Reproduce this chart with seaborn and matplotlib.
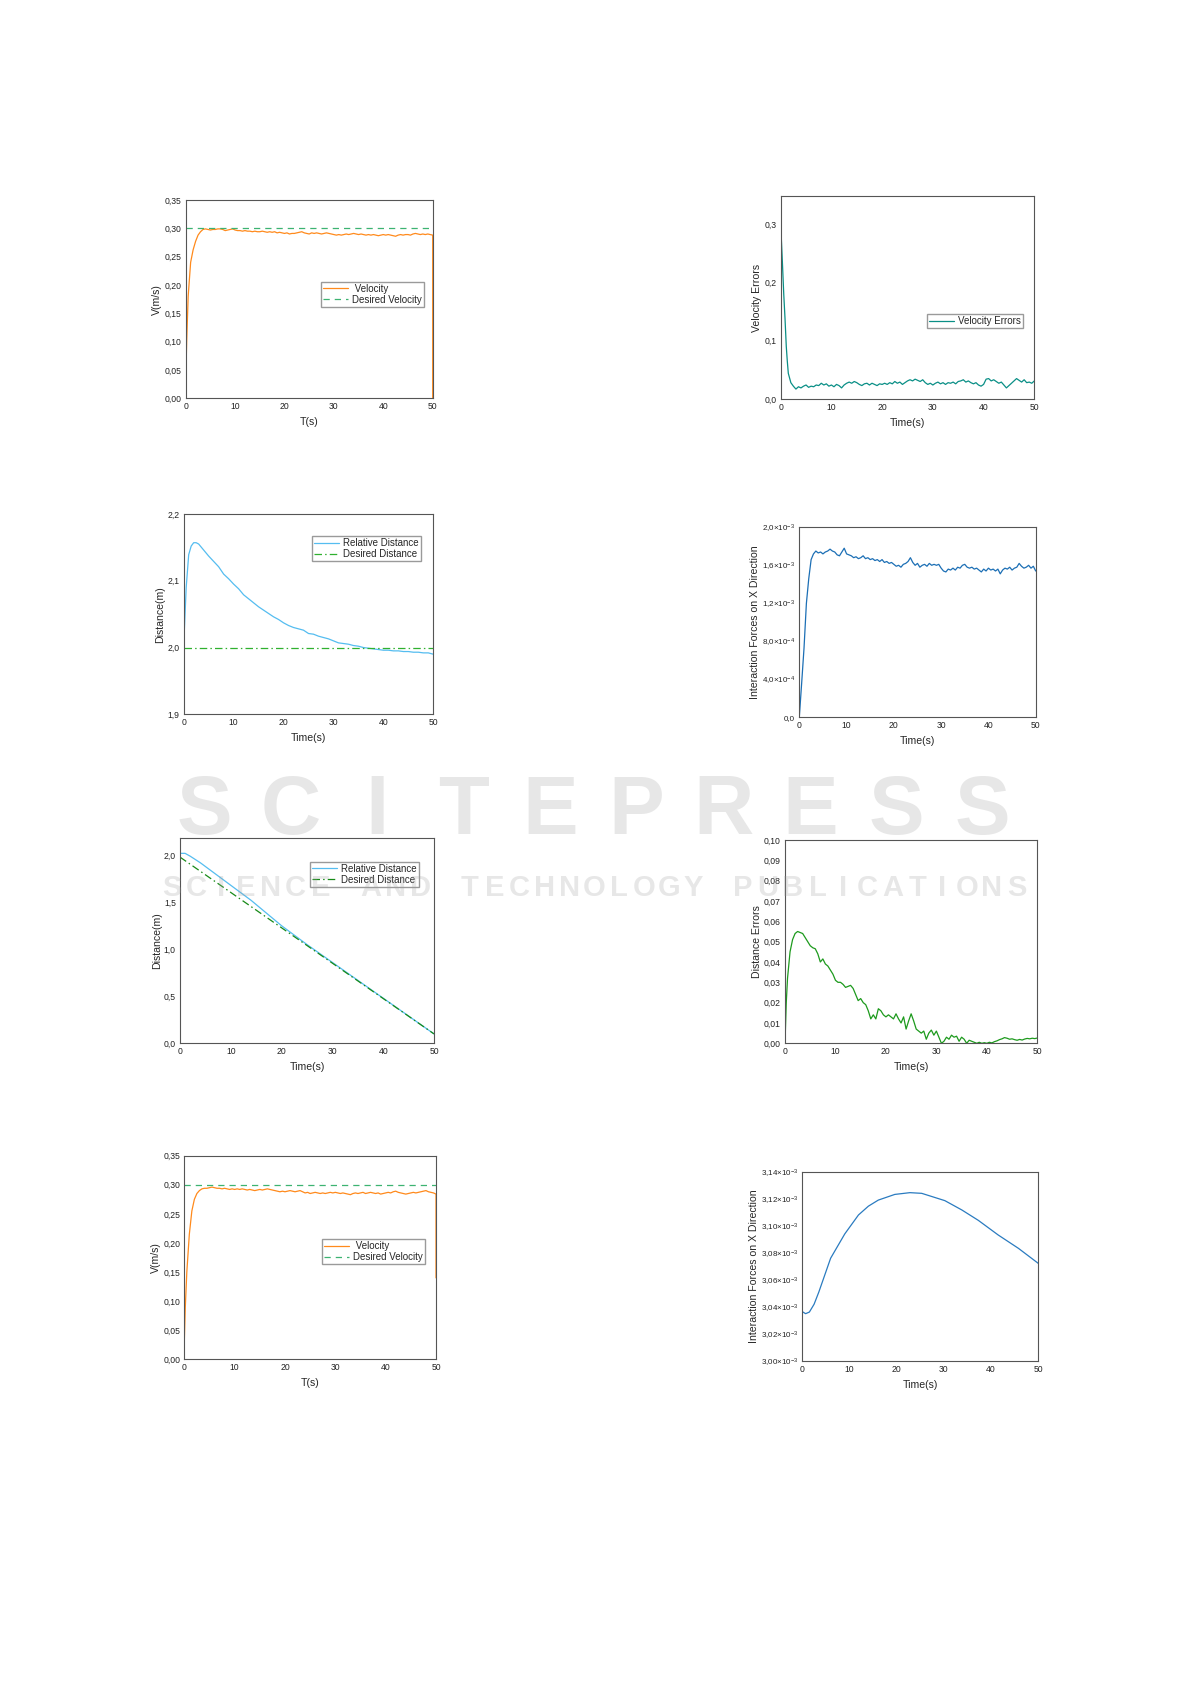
import numpy as np
import pandas as pd
import seaborn as sns
import matplotlib.pyplot as plt
from matplotlib.ticker import FuncFormatter, MultipleLocator

sns.set_theme(style="white")
plt.rcParams['font.family'] = ['Liberation Sans', 'DejaVu Sans']
plt.rcParams['mathtext.fontset'] = 'custom'
plt.rcParams['mathtext.rm'] = 'Liberation Sans'
plt.rcParams['mathtext.it'] = 'Liberation Sans:italic'
plt.rcParams['mathtext.bf'] = 'Liberation Sans:bold'

# ---- data ----
t_fine = np.arange(3.0, 50.01, 0.5)   # 95 sample times, 0.5 s apart

# panel 1: velocity (first run)
t_vel1_start = [0, 0.2, 0.5, 1, 1.5, 2, 2.5]
vel1_start = [0.03, 0.10, 0.18, 0.24, 0.262, 0.277, 0.288]
vel1_fine = [0.294, 0.298, 0.299, 0.298, 0.297, 0.298, 0.298, 0.299, 0.299, 0.298,
             0.296, 0.297, 0.298, 0.299, 0.297, 0.296, 0.296, 0.295, 0.296, 0.295,
             0.295, 0.294, 0.295, 0.294, 0.294, 0.295, 0.294, 0.293, 0.294, 0.293,
             0.294, 0.292, 0.293, 0.292, 0.291, 0.292, 0.290, 0.291, 0.291, 0.292,
             0.293, 0.294, 0.292, 0.291, 0.290, 0.292, 0.291, 0.292, 0.291, 0.290,
             0.291, 0.292, 0.291, 0.290, 0.289, 0.288, 0.289, 0.288, 0.289, 0.290,
             0.289, 0.290, 0.291, 0.290, 0.289, 0.290, 0.289, 0.288, 0.289, 0.288,
             0.289, 0.288, 0.287, 0.288, 0.289, 0.288, 0.289, 0.288, 0.287, 0.286,
             0.288, 0.289, 0.288, 0.289, 0.289, 0.288, 0.290, 0.291, 0.290, 0.289,
             0.290, 0.289, 0.290, 0.289, 0.288]
vel1_end = 0.0

# panel 7: velocity (second run)
t_vel2_start = [0, 0.2, 0.5, 1, 1.5, 2, 2.5]
vel2_start = [0.03, 0.09, 0.15, 0.215, 0.255, 0.275, 0.285]
vel2_fine = [0.290, 0.293, 0.294, 0.294, 0.295, 0.296, 0.295, 0.294, 0.294, 0.293,
             0.294, 0.293, 0.292, 0.293, 0.292, 0.293, 0.292, 0.293, 0.292, 0.291,
             0.292, 0.291, 0.290, 0.291, 0.292, 0.291, 0.292, 0.293, 0.292, 0.291,
             0.290, 0.289, 0.288, 0.289, 0.288, 0.289, 0.290, 0.289, 0.288, 0.289,
             0.290, 0.288, 0.286, 0.287, 0.285, 0.286, 0.287, 0.286, 0.285, 0.286,
             0.285, 0.286, 0.287, 0.286, 0.287, 0.286, 0.285, 0.286, 0.285, 0.284,
             0.283, 0.285, 0.286, 0.285, 0.286, 0.287, 0.285, 0.286, 0.287, 0.286,
             0.285, 0.286, 0.284, 0.285, 0.286, 0.287, 0.286, 0.288, 0.289, 0.287,
             0.286, 0.285, 0.284, 0.285, 0.286, 0.287, 0.286, 0.287, 0.288, 0.289,
             0.290, 0.288, 0.287, 0.286, 0.284]
vel2_end = 0.14
desired_velocity = 0.30

# panel 2: velocity errors
t_verr_start = [0, 0.33, 0.6, 0.85, 1.1, 1.3, 1.5, 2.0, 2.5]
verr_start = [0.30, 0.235, 0.18, 0.138, 0.09, 0.065, 0.044, 0.028, 0.022]
verr_fine = [0.017, 0.021, 0.019, 0.022, 0.024, 0.020, 0.022, 0.021, 0.024, 0.023,
             0.027, 0.024, 0.026, 0.022, 0.024, 0.021, 0.025, 0.023, 0.019, 0.024,
             0.027, 0.029, 0.027, 0.030, 0.028, 0.025, 0.023, 0.026, 0.027, 0.024,
             0.027, 0.025, 0.023, 0.026, 0.025, 0.027, 0.025, 0.028, 0.026, 0.030,
             0.027, 0.029, 0.025, 0.028, 0.031, 0.033, 0.031, 0.034, 0.032, 0.030,
             0.033, 0.028, 0.025, 0.027, 0.024, 0.027, 0.029, 0.026, 0.028, 0.025,
             0.028, 0.027, 0.029, 0.026, 0.030, 0.031, 0.033, 0.029, 0.031, 0.028,
             0.026, 0.028, 0.024, 0.022, 0.025, 0.034, 0.035, 0.031, 0.033, 0.030,
             0.027, 0.029, 0.024, 0.019, 0.023, 0.027, 0.031, 0.035, 0.032, 0.029,
             0.033, 0.028, 0.029, 0.027, 0.031]

# panel 3: relative distance (holding distance)
t_dist = [0, 0.5, 1, 1.5, 2, 2.5] + list(range(3, 51))
rel_dist = [2.003, 2.09, 2.139, 2.152, 2.157, 2.157,
            2.155, 2.146, 2.137, 2.129, 2.121, 2.110, 2.103, 2.095, 2.088, 2.079,
            2.073, 2.067, 2.061, 2.056, 2.051, 2.046, 2.042, 2.037, 2.033, 2.030,
            2.028, 2.026, 2.021, 2.020, 2.017, 2.015, 2.013, 2.010, 2.007, 2.006,
            2.005, 2.003, 2.002, 2.000, 1.999, 1.998, 1.997, 1.996, 1.996, 1.995,
            1.995, 1.994, 1.994, 1.993, 1.993, 1.992, 1.992, 1.990]
desired_dist = 2.0

# panel 4: interaction forces (x10^-3)
t_force_start = [0, 0.5, 1, 1.5, 2, 2.5]
force_start = [0.0, 0.36, 0.73, 1.2, 1.46, 1.66]
force_fine = [1.72, 1.75, 1.73, 1.74, 1.72, 1.74, 1.75, 1.77, 1.75, 1.74,
              1.71, 1.70, 1.74, 1.78, 1.72, 1.71, 1.70, 1.68, 1.69, 1.67,
              1.68, 1.70, 1.67, 1.68, 1.66, 1.67, 1.65, 1.66, 1.64, 1.66,
              1.63, 1.64, 1.62, 1.63, 1.61, 1.59, 1.60, 1.58, 1.61, 1.62,
              1.64, 1.68, 1.63, 1.60, 1.62, 1.58, 1.60, 1.61, 1.59, 1.62,
              1.60, 1.61, 1.60, 1.61, 1.57, 1.54, 1.53, 1.56, 1.55, 1.57,
              1.55, 1.58, 1.57, 1.60, 1.61, 1.58, 1.57, 1.58, 1.56, 1.57,
              1.55, 1.53, 1.56, 1.54, 1.57, 1.55, 1.56, 1.54, 1.56, 1.51,
              1.55, 1.57, 1.56, 1.58, 1.55, 1.57, 1.58, 1.62, 1.59, 1.57,
              1.58, 1.60, 1.57, 1.59, 1.54]

# panel 5: relative distance (approaching)
t_app = [0, 1, 2, 4, 6, 8, 10, 12, 14, 16, 18, 20, 25, 30, 35, 40, 45, 50]
rel_app = [2.02, 2.02, 1.99, 1.92, 1.84, 1.76, 1.68, 1.60, 1.52, 1.43, 1.34, 1.25,
           1.05, 0.86, 0.67, 0.48, 0.29, 0.10]
t_app_des = [0, 50]
des_app = [1.98, 0.10]

# panel 6: distance errors
t_derr_start = [0, 0.25, 0.5, 1, 1.5, 2, 2.5]
derr_start = [0.0, 0.02, 0.032, 0.045, 0.051, 0.054, 0.055]
derr_fine = [0.0545, 0.054, 0.052, 0.050, 0.048, 0.047, 0.0465, 0.044, 0.040, 0.0415,
             0.039, 0.038, 0.036, 0.034, 0.031, 0.030, 0.030, 0.029, 0.0275, 0.028,
             0.0285, 0.027, 0.024, 0.021, 0.022, 0.020, 0.019, 0.016, 0.012, 0.014,
             0.012, 0.017, 0.016, 0.014, 0.013, 0.014, 0.013, 0.012, 0.0145, 0.012,
             0.010, 0.013, 0.007, 0.011, 0.0145, 0.011, 0.007, 0.006, 0.005, 0.006,
             0.002, 0.005, 0.0065, 0.004, 0.006, 0.003, 0.000, 0.001, 0.003, 0.002,
             0.004, 0.003, 0.0035, 0.001, 0.003, 0.002, 0.000, 0.0015, 0.001, 0.0005,
             0.000, 0.0005, 0.000, 0.0003, 0.000, 0.0005, 0.0002, 0.0008, 0.0012, 0.0018,
             0.0022, 0.0028, 0.0025, 0.002, 0.0022, 0.0018, 0.0015, 0.0019, 0.0016, 0.0021,
             0.0024, 0.0022, 0.0025, 0.0023, 0.0026]

# panel 8: interaction forces, second run (x10^-3)
t_force2 = [0, 0.7, 1.5, 2.5, 3.5, 4.8, 6, 8, 9, 11.9, 14, 16.1, 19.6, 22.8, 25.3,
            30.2, 33.8, 37.3, 41.5, 45.8, 50]
force2 = [3.0365, 3.0350, 3.0362, 3.0420, 3.0510, 3.0640, 3.0760, 3.0880, 3.0940,
          3.1080, 3.1145, 3.1190, 3.1232, 3.1245, 3.1240, 3.1186, 3.1117, 3.1040,
          3.0932, 3.0833, 3.0722]

# ---- layout ----
W, H = 1191, 1684
fig = plt.figure(figsize=(W / 100, H / 100), dpi=100)
fig.patch.set_facecolor('white')


def make_ax(left, right, top, bottom):
    return fig.add_axes([left / W, 1 - bottom / H, (right - left) / W, (bottom - top) / H])


def comma_fmt(nd):
    return FuncFormatter(lambda v, p: f"{v:.{nd}f}".replace('.', ','))


def sci_fmt(nd):
    def f(v, p):
        v = v * 1e-3
        if abs(v) < 1e-12:
            return "0,0"
        e = int(np.floor(np.log10(abs(v)) + 1e-9))
        m = v / 10 ** e
        return f"{m:.{nd}f}".replace('.', ',') + r"$\times$10$^{%d}$" % e
    return FuncFormatter(f)


def style(ax, xlabel, ylabel, ylim, ystep, yfmt):
    ax.set_xlim(0, 50)
    ax.set_ylim(*ylim)
    ax.xaxis.set_major_locator(MultipleLocator(10))
    ax.yaxis.set_major_locator(MultipleLocator(ystep))
    ax.xaxis.set_major_formatter(FuncFormatter(lambda v, p: f"{v:.0f}"))
    ax.yaxis.set_major_formatter(yfmt)
    ax.tick_params(length=0, labelsize=6.2, pad=3, colors='#222222')
    ax.set_xlabel(xlabel, fontsize=7.6, labelpad=4)
    ax.set_ylabel(ylabel, fontsize=7.6, labelpad=1.5)
    for s in ax.spines.values():
        s.set_color('#555555')
        s.set_linewidth(0.8)
    ax.grid(False)


def add_legend(ax, x, y):
    ax.legend(loc='upper left', bbox_to_anchor=(x, y), fontsize=7, frameon=True,
              fancybox=False, edgecolor='#9a9a9a', framealpha=1, borderpad=0.2,
              labelspacing=0.1, handlelength=2.6, handletextpad=0.4, borderaxespad=0)


orange = '#ff8a1c'
lw = 0.9

# panel 1
ax1 = make_ax(185.7, 432.7, 200, 398.3)
df1 = pd.DataFrame({'t': t_vel1_start + list(t_fine) + [50.0],
                    'v': vel1_start + vel1_fine + [vel1_end]})
sns.lineplot(data=df1, x='t', y='v', ax=ax1, color=orange, lw=lw, sort=False,
             estimator=None, label=' Velocity')
sns.lineplot(x=[0, 50], y=[desired_velocity, desired_velocity], ax=ax1, color='#3cb371',
             lw=lw, linestyle=(0, (5, 4)), label='Desired Velocity')
style(ax1, 'T(s)', 'V(m/s)', (0, 0.35), 0.05, comma_fmt(2))
add_legend(ax1, 0.548, 0.588)

# panel 2
ax2 = make_ax(780.7, 1034.3, 196, 399)
df2 = pd.DataFrame({'t': t_verr_start + list(t_fine), 'e': verr_start + verr_fine})
sns.lineplot(data=df2, x='t', y='e', ax=ax2, color='#0a8f86', lw=lw, sort=False,
             estimator=None, label='Velocity Errors')
style(ax2, 'Time(s)', 'Velocity Errors', (0, 0.348), 0.1, comma_fmt(1))
add_legend(ax2, 0.576, 0.417)

# panel 3
ax3 = make_ax(183.7, 433.3, 514, 714.3)
df3 = pd.DataFrame({'t': t_dist, 'd': rel_dist})
sns.lineplot(data=df3, x='t', y='d', ax=ax3, color='#55bdf0', lw=lw, sort=False,
             estimator=None, label='Relative Distance')
sns.lineplot(x=[0, 50], y=[desired_dist, desired_dist], ax=ax3, color='#2fb02f', lw=lw,
             linestyle=(0, (6, 2.5, 1.2, 2.5)), label='Desired Distance')
style(ax3, 'Time(s)', 'Distance(m)', (1.9, 2.2), 0.1, comma_fmt(1))
add_legend(ax3, 0.515, 0.89)

# panel 4
ax4 = make_ax(799.3, 1035.7, 527.3, 717.3)
df4 = pd.DataFrame({'t': t_force_start + list(t_fine), 'f': force_start + force_fine})
sns.lineplot(data=df4, x='t', y='f', ax=ax4, color='#1c6fb5', lw=lw, sort=False,
             estimator=None, legend=False)
style(ax4, 'Time(s)', 'Interaction Forces on X Direction', (0, 2.0), 0.4, sci_fmt(1))
ax4.tick_params(axis='y', labelsize=5.8)

# panel 5
ax5 = make_ax(180, 434, 838.3, 1043.3)
sns.lineplot(x=t_app, y=rel_app, ax=ax5, color='#55bdf0', lw=lw, sort=False,
             estimator=None, label='Relative Distance')
sns.lineplot(x=t_app_des, y=des_app, ax=ax5, color='#178a17', lw=lw,
             linestyle=(0, (6, 2.5, 1.2, 2.5)), label='Desired Distance')
style(ax5, 'Time(s)', 'Distance(m)', (0, 2.18), 0.5, comma_fmt(1))
add_legend(ax5, 0.512, 0.886)

# panel 6
ax6 = make_ax(785, 1037.3, 840, 1043.3)
df6 = pd.DataFrame({'t': t_derr_start + list(t_fine), 'e': derr_start + derr_fine})
sns.lineplot(data=df6, x='t', y='e', ax=ax6, color='#1d9a1d', lw=lw, sort=False,
             estimator=None, legend=False)
style(ax6, 'Time(s)', 'Distance Errors', (0, 0.10), 0.01, comma_fmt(2))

# panel 7
ax7 = make_ax(184.3, 436, 1155.7, 1359.3)
df7 = pd.DataFrame({'t': t_vel2_start + list(t_fine) + [50.0],
                    'v': vel2_start + vel2_fine + [vel2_end]})
sns.lineplot(data=df7, x='t', y='v', ax=ax7, color=orange, lw=lw, sort=False,
             estimator=None, label=' Velocity')
sns.lineplot(x=[0, 50], y=[desired_velocity, desired_velocity], ax=ax7, color='#3cb371',
             lw=lw, linestyle=(0, (5, 4)), label='Desired Velocity')
style(ax7, 'T(s)', 'V(m/s)', (0, 0.35), 0.05, comma_fmt(2))
add_legend(ax7, 0.546, 0.589)

# panel 8
ax8 = make_ax(802.3, 1038.3, 1171.7, 1361)
sns.lineplot(x=t_force2, y=force2, ax=ax8, color='#2a7bc0', lw=lw, sort=False,
             estimator=None, legend=False)
style(ax8, 'Time(s)', 'Interaction Forces on X Direction', (3.0, 3.14), 0.02, sci_fmt(2))
ax8.tick_params(axis='y', labelsize=5.8)

# watermark
wm = "SCITEPRESS"
slot = (1026 - 161) / len(wm)
for i, ch in enumerate(wm):
    fig.text((161 + slot * (i + 0.5)) / W, 1 - 812 / H, ch, fontsize=60, weight='bold',
             ha='center', va='center', color='#a0a0a0', alpha=0.25, zorder=10)
wm2 = "SCIENCE AND TECHNOLOGY PUBLICATIONS"
slot2 = (1029 - 159) / len(wm2)
for i, ch in enumerate(wm2):
    fig.text((159 + slot2 * (i + 0.5)) / W, 1 - 888 / H, ch, fontsize=21, weight='bold',
             ha='center', va='center', color='#a0a0a0', alpha=0.25, zorder=10)

fig.savefig('out.png', dpi=100, facecolor='white')
